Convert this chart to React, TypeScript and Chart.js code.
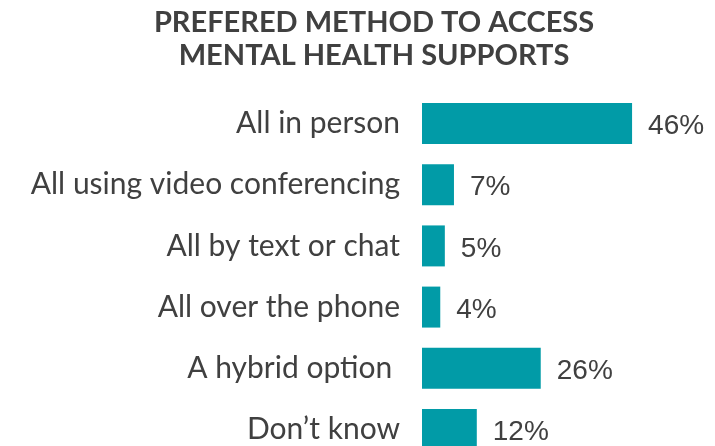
import React, { useEffect, useRef } from "react";
import { Chart, registerables } from "chart.js";

Chart.register(...registerables);

const categories = [
  "All in person",
  "All using video conferencing",
  "All by text or chat",
  "All over the phone",
  "A hybrid option ",
  "Don\u2019t know",
];
const values = [46, 7, 5, 4, 26, 12];
const titleLines = ["PREFERED METHOD TO ACCESS", "MENTAL HEALTH SUPPORTS"];

const TEXT = "#404040";
const BAR = "#019ba7";

const titlePlugin = {
  id: "customTitle",
  afterDraw(chart: any) {
    const ctx = chart.ctx;
    ctx.save();
    ctx.fillStyle = TEXT;
    ctx.font = "bold 29px Lato";
    ctx.textAlign = "center";
    ctx.textBaseline = "alphabetic";
    ctx.fillText(titleLines[0], 374, 32);
    ctx.fillText(titleLines[1], 374, 65);
    ctx.restore();
  },
};

const valueLabelPlugin = {
  id: "valueLabels",
  afterDatasetsDraw(chart: any) {
    const ctx = chart.ctx;
    const meta = chart.getDatasetMeta(0);
    ctx.save();
    ctx.fillStyle = TEXT;
    ctx.font = "28px 'Liberation Sans'";
    ctx.textAlign = "left";
    ctx.textBaseline = "middle";
    meta.data.forEach((bar: any, i: number) => {
      ctx.fillText(values[i] + "%", bar.x + 16, bar.y + 3);
    });
    ctx.restore();
  },
};

export default function App() {
  const ref = useRef<HTMLCanvasElement | null>(null);
  useEffect(() => {
    if (!ref.current) return;
    const chart = new Chart(ref.current, {
      type: "bar",
      data: {
        labels: categories,
        datasets: [
          {
            data: values,
            backgroundColor: BAR,
            barPercentage: 0.67,
            categoryPercentage: 1,
          },
        ],
      },
      options: {
        indexAxis: "y",
        animation: false,
        responsive: false,
        maintainAspectRatio: false,
        layout: { padding: { top: 93, right: 19, left: 0, bottom: 0 } },
        plugins: {
          legend: { display: false },
          title: { display: false },
          tooltip: { enabled: false },
        },
        scales: {
          x: { display: false, min: 0, max: 60 },
          y: {
            grid: { display: false, drawTicks: false },
            border: { display: false },
            ticks: {
              color: TEXT,
              font: { family: "Lato", size: 30 },
              padding: 22,
            },
            afterFit(scale: any) {
              scale.width = 422;
            },
          },
        },
      },
      plugins: [titlePlugin, valueLabelPlugin],
    });
    return () => chart.destroy();
  }, []);
  return (
    <div
      style={{
        position: "fixed",
        left: 0,
        top: 0,
        width: 715,
        height: 446,
        overflow: "hidden",
        background: "#fff",
      }}
    >
      <canvas ref={ref} width={715} height={500} style={{ display: "block" }} />
    </div>
  );
}
